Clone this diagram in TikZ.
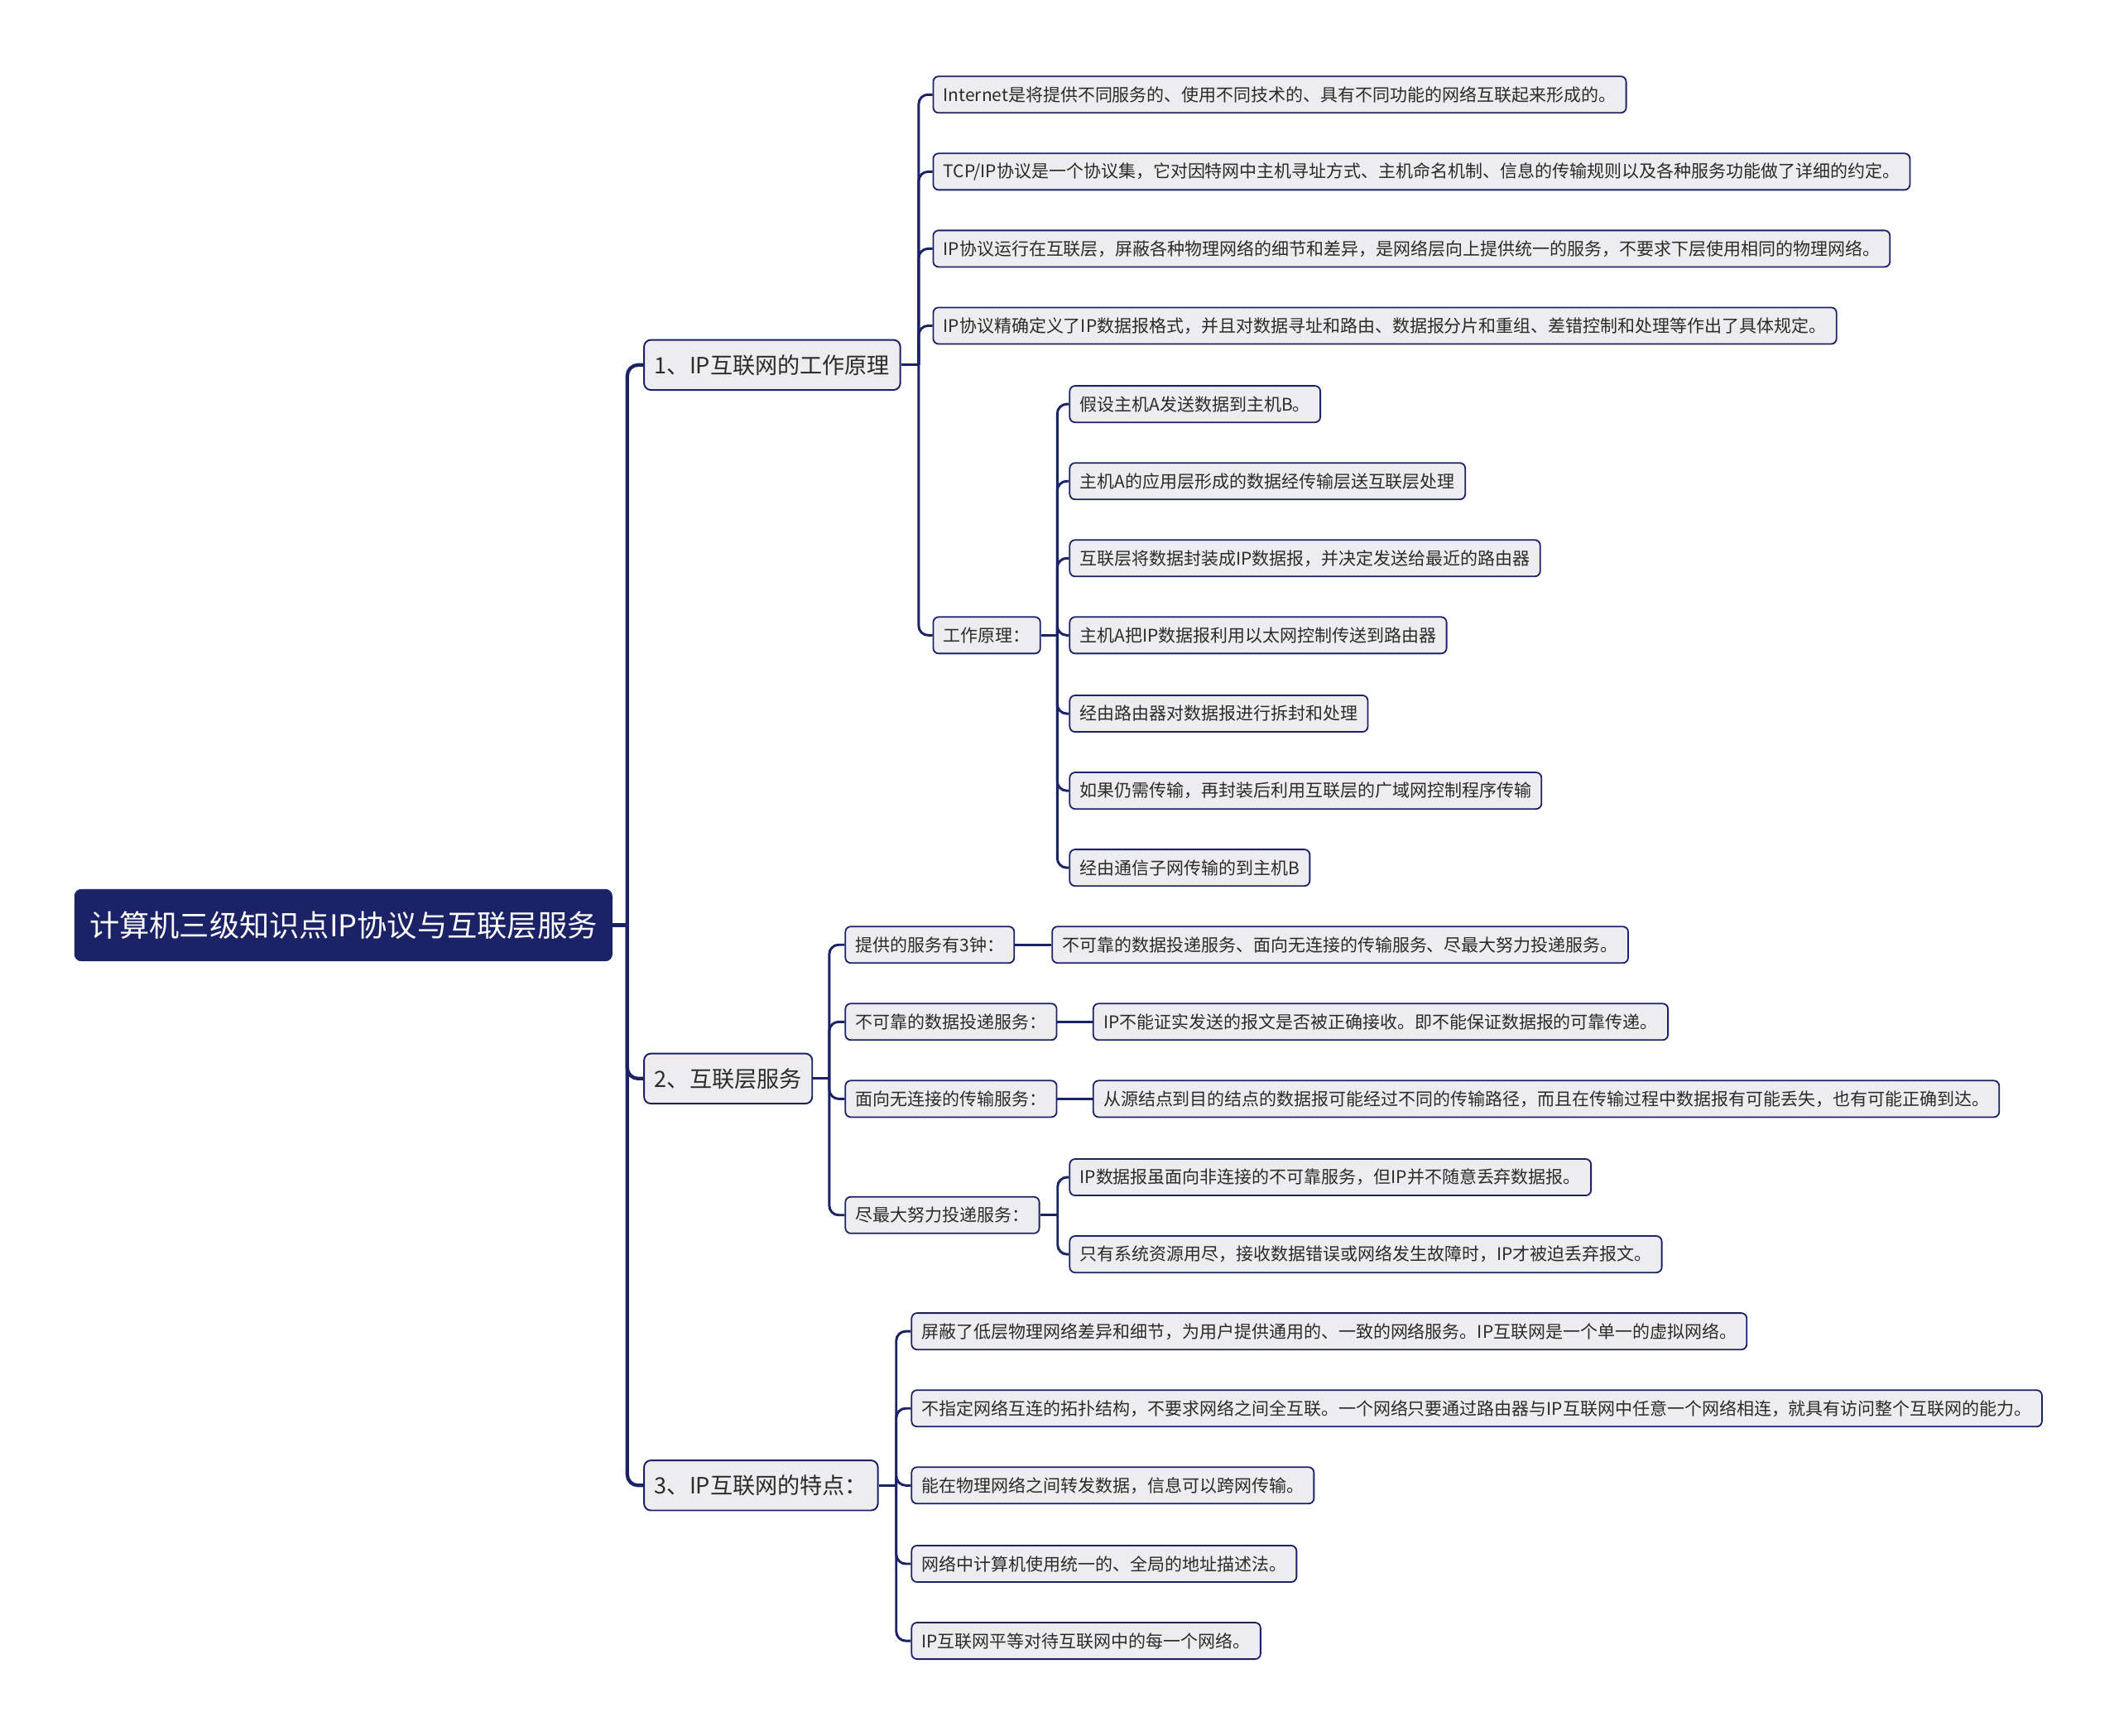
\documentclass[tikz,border=0pt]{standalone}
\usepackage{fontspec}
\setmainfont{Noto Sans CJK SC}
\usetikzlibrary{positioning}
\definecolor{navy}{HTML}{1C2266}
\definecolor{boxgray}{HTML}{EDEDEF}
\definecolor{txt}{HTML}{2B2B2B}

\begin{document}
\begin{tikzpicture}[x=1pt,y=-1pt,
  root/.style={rectangle,rounded corners=5pt,fill=navy,draw=navy,text=white,
    font=\fontsize{22.2}{26}\selectfont,minimum height=53pt,inner xsep=11pt},
  topic/.style={rectangle,rounded corners=5pt,fill=boxgray,draw=navy,line width=1.2pt,
    text=txt,font=\fontsize{16.6}{20}\selectfont,minimum height=37pt,inner xsep=7.8pt},
  leaf/.style={rectangle,rounded corners=4pt,fill=boxgray,draw=navy,line width=1.1pt,
    text=txt,font=\fontsize{12.85}{15}\selectfont,minimum height=27pt,inner xsep=7.5pt},
  trunk/.style={draw=navy,line width=2.6pt,rounded corners=8pt},
  link/.style={draw=navy,line width=1.8pt,rounded corners=7pt}]
\useasboundingbox (0,0) rectangle (1568,1284);
%NODES
\node[root,anchor=west] (root) at (55,684.5) {计算机三级知识点IP协议与互联层服务};
\node[topic,anchor=west] (t1) at (476,270) {1、IP互联网的工作原理};
\node[topic,anchor=west] (t2) at (476,798) {2、互联层服务};
\node[topic,anchor=west] (t3) at (476,1099) {3、IP互联网的特点：};
% 1
\node[leaf,anchor=west] (t1a) at (690,70) {Internet是将提供不同服务的、使用不同技术的、具有不同功能的网络互联起来形成的。};
\node[leaf,anchor=west] (t1b) at (690,127) {TCP/IP协议是一个协议集，它对因特网中主机寻址方式、主机命名机制、信息的传输规则以及各种服务功能做了详细的约定。};
\node[leaf,anchor=west] (t1c) at (690,184) {IP协议运行在互联层，屏蔽各种物理网络的细节和差异，是网络层向上提供统一的服务，不要求下层使用相同的物理网络。};
\node[leaf,anchor=west] (t1d) at (690,241) {IP协议精确定义了IP数据报格式，并且对数据寻址和路由、数据报分片和重组、差错控制和处理等作出了具体规定。};
\node[leaf,anchor=west] (work) at (690,470) {工作原理：};
\node[leaf,anchor=west] (w1) at (791,299) {假设主机A发送数据到主机B。};
\node[leaf,anchor=west] (w2) at (791,356) {主机A的应用层形成的数据经传输层送互联层处理};
\node[leaf,anchor=west] (w3) at (791,413) {互联层将数据封装成IP数据报，并决定发送给最近的路由器};
\node[leaf,anchor=west] (w4) at (791,470) {主机A把IP数据报利用以太网控制传送到路由器};
\node[leaf,anchor=west] (w5) at (791,528) {经由路由器对数据报进行拆封和处理};
\node[leaf,anchor=west] (w6) at (791,585) {如果仍需传输，再封装后利用互联层的广域网控制程序传输};
\node[leaf,anchor=west] (w7) at (791,642) {经由通信子网传输的到主机B};
% 2
\node[leaf,anchor=west] (s1) at (625,699) {提供的服务有3钟：};
\node[leaf,right=27pt of s1] (s1x) {不可靠的数据投递服务、面向无连接的传输服务、尽最大努力投递服务。};
\node[leaf,anchor=west] (s2) at (625,756) {不可靠的数据投递服务：};
\node[leaf,right=26pt of s2] (s2x) {IP不能证实发送的报文是否被正确接收。即不能保证数据报的可靠传递。};
\node[leaf,anchor=west] (s3) at (625,813) {面向无连接的传输服务：};
\node[leaf,right=26pt of s3] (s3x) {从源结点到目的结点的数据报可能经过不同的传输路径，而且在传输过程中数据报有可能丢失，也有可能正确到达。};
\node[leaf,anchor=west] (s4) at (625,899) {尽最大努力投递服务：};
\node[leaf,anchor=west] (s4a) at (791,871) {IP数据报虽面向非连接的不可靠服务，但IP并不随意丢弃数据报。};
\node[leaf,anchor=west] (s4b) at (791,928) {只有系统资源用尽，接收数据错误或网络发生故障时，IP才被迫丢弃报文。};
% 3
\node[leaf,anchor=west] (f1) at (674,985) {屏蔽了低层物理网络差异和细节，为用户提供通用的、一致的网络服务。IP互联网是一个单一的虚拟网络。};
\node[leaf,anchor=west] (f2) at (674,1042) {不指定网络互连的拓扑结构，不要求网络之间全互联。一个网络只要通过路由器与IP互联网中任意一个网络相连，就具有访问整个互联网的能力。};
\node[leaf,anchor=west] (f3) at (674,1099) {能在物理网络之间转发数据，信息可以跨网传输。};
\node[leaf,anchor=west] (f4) at (674,1157) {网络中计算机使用统一的、全局的地址描述法。};
\node[leaf,anchor=west] (f5) at (674,1214) {IP互联网平等对待互联网中的每一个网络。};
%EDGES
\draw[trunk] (root.east) -- ++(11,0);
\foreach \n in {t1,t2,t3}
  \draw[trunk] (\n.west) -| ([xshift=11pt]root.east);
\draw[link] (t1.east) -- ++(13,0);
\foreach \n in {t1a,t1b,t1c,t1d,work}
  \draw[link] (\n.west) -| ([xshift=13pt]t1.east);
\draw[link] (work.east) -- ++(12,0);
\foreach \n in {w1,w2,w3,w4,w5,w6,w7}
  \draw[link] (\n.west) -| ([xshift=12pt]work.east);
\draw[link] (t2.east) -- ++(12,0);
\foreach \n in {s1,s2,s3,s4}
  \draw[link] (\n.west) -| ([xshift=12pt]t2.east);
\draw[link] (s1) -- (s1x);
\draw[link] (s2) -- (s2x);
\draw[link] (s3) -- (s3x);
\draw[link] (s4.east) -- ++(13,0);
\foreach \n in {s4a,s4b}
  \draw[link] (\n.west) -| ([xshift=13pt]s4.east);
\draw[link] (t3.east) -- ++(13,0);
\foreach \n in {f1,f2,f3,f4,f5}
  \draw[link] (\n.west) -| ([xshift=13pt]t3.east);
\end{tikzpicture}
\end{document}
